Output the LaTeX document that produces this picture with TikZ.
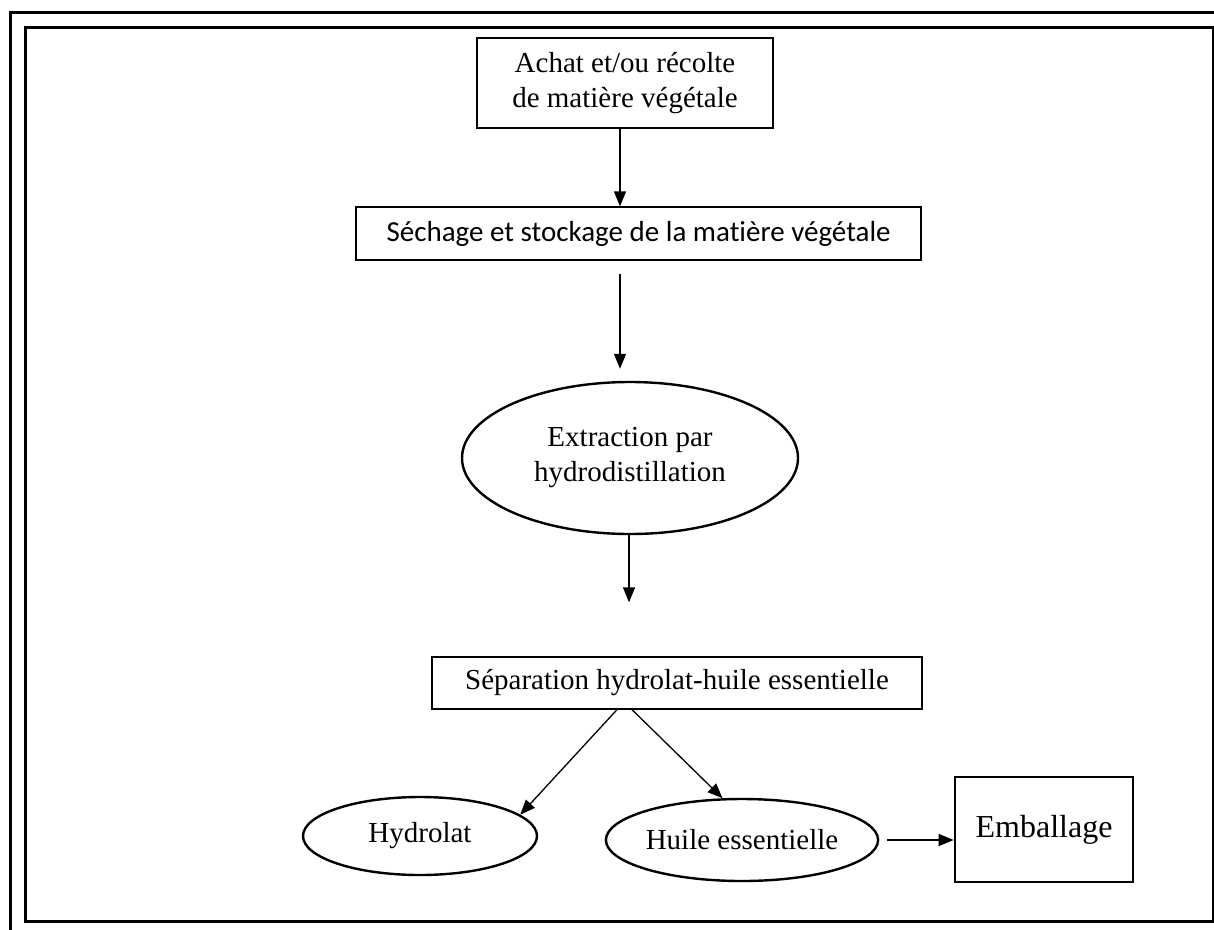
\documentclass[tikz,border=0pt]{standalone}
\usepackage{fontspec}
\setmainfont{Liberation Serif}
\newfontfamily\calib[Ligatures={NoCommon,NoRare}]{Carlito}
\usetikzlibrary{shapes.geometric,arrows.meta}
\begin{document}
\begin{tikzpicture}[x=1pt,y=-1pt,
  txt/.style={font=\fontsize{29}{35}\selectfont, align=center, text=black},
  thinbox/.style={txt, draw, line width=1.3pt, inner sep=0pt},
  oval/.style={txt, draw, ellipse, line width=2.4pt, inner sep=0pt},
  arr/.style={line width=1.3pt, -{Triangle[length=15pt,width=12pt]}},
  frameline/.style={line width=3pt}]
\clip (0,0) rectangle (1214,929);
\draw[frameline] (10,12) rectangle (1260,980);
\draw[frameline] (25,27) rectangle (1213,921);
\node[thinbox, minimum width=296pt, minimum height=90pt] (b1) at (625,83) {Achat et/ou récolte\\de matière végétale};
\node[thinbox, minimum width=565pt, minimum height=53pt, font=\calib\fontsize{29}{35}\selectfont] (b2) at (638.5,233.5) {Séchage et stockage de la matière végétale};
\node[oval, minimum width=336pt, minimum height=152pt] (e1) at (630,458) {Extraction par\\hydrodistillation};
\node[thinbox, minimum width=490pt, minimum height=52pt] (b3) at (677,683) {Séparation hydrolat-huile essentielle};
\node[oval, minimum width=234pt, minimum height=78pt] (h) at (420,836) {Hydrolat};
\node[oval, minimum width=232pt, minimum height=82pt] (he) at (742,840) {Huile essentielle};
\node[txt, draw, line width=2.6pt, inner sep=0pt, minimum width=178pt, minimum height=105pt, font=\fontsize{32}{38}\selectfont] (emb) at (1044,829.5) {Emballage};
\draw[arr] ([xshift=-5pt]b1.south) -- ([xshift=-18.5pt]b2.north);
\draw[arr, shorten <=13pt, shorten >=12pt] ([xshift=-18.5pt]b2.south) -- ([xshift=-10pt]e1.north);
\draw[arr, shorten >=54pt] ([xshift=-1pt]e1.south) -- ([xshift=-48pt]b3.north);
\draw[arr] ([xshift=-60pt]b3.south) -- (h.12);
\draw[arr] ([xshift=-45pt]b3.south) -- (he.115);
\draw[arr, shorten <=8pt] (he.east) -- (he.east -| emb.west);
\end{tikzpicture}
\end{document}
